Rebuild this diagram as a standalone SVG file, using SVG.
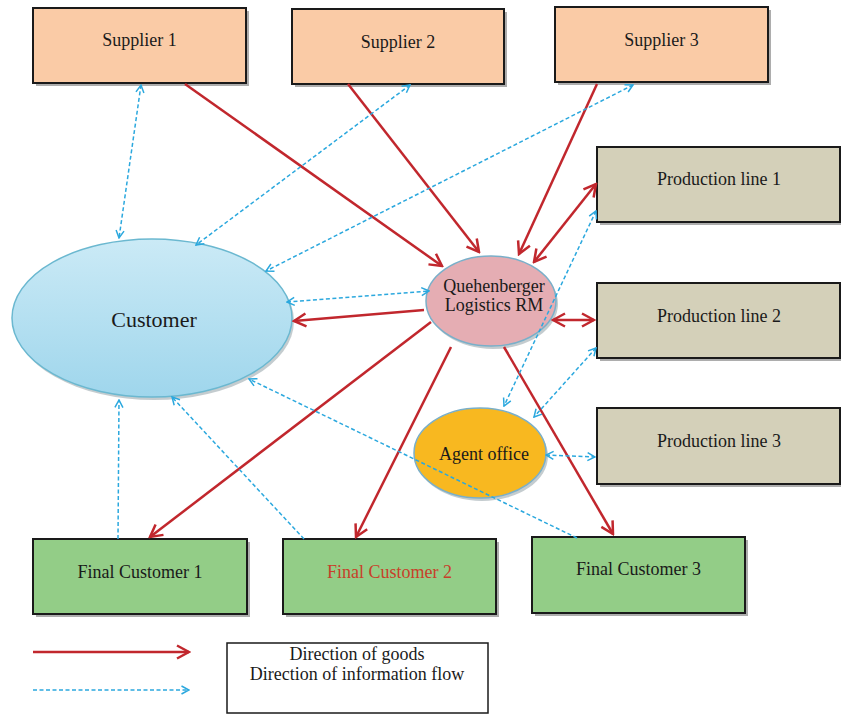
<svg xmlns="http://www.w3.org/2000/svg" width="841" height="714" viewBox="0 0 841 714">
<style>
.box{stroke:#1a1a1a;stroke-width:2}
.sh{fill:#6a6a6a;opacity:0.55}
.sup{fill:#FACBA6}
.pro{fill:#D4D0B9}
.fin{fill:#93CD87}
.t{font-family:"Liberation Serif","Times New Roman",serif;font-size:18px;fill:#1a1a1a;text-anchor:middle}
.g{fill:none;stroke:#C1272D;stroke-width:2.5}
.i{fill:none;stroke:#2BA8DE;stroke-width:1.5;stroke-dasharray:4 2.5}
</style>
<defs>
<linearGradient id="cg" x1="0" y1="0" x2="0" y2="1">
<stop offset="0" stop-color="#CBEAF6"/>
<stop offset="1" stop-color="#9FD6EC"/>
</linearGradient>
<marker id="rh" viewBox="0 0 16 16" refX="14" refY="8" markerWidth="16" markerHeight="16" markerUnits="userSpaceOnUse" orient="auto-start-reverse">
<path d="M2,1.5 L14,8 L2,14.5" fill="none" stroke="#C1272D" stroke-width="2.5"/>
</marker>
<marker id="bh" viewBox="0 0 10 10" refX="9" refY="5" markerWidth="10" markerHeight="10" markerUnits="userSpaceOnUse" orient="auto-start-reverse">
<path d="M1.5,1 L9,5 L1.5,9" fill="none" stroke="#2BA8DE" stroke-width="1.5"/>
</marker>
</defs>
<rect width="841" height="714" fill="#ffffff"/>

<g id="supplier1">
<rect class="sh" x="36" y="11" width="213" height="75"/>
<rect class="box sup" x="33" y="8" width="213" height="75"/>
<text class="t" x="139.5" y="46">Supplier 1</text>
</g>
<g id="supplier2">
<rect class="sh" x="295" y="12" width="212" height="75"/>
<rect class="box sup" x="292" y="9" width="212" height="75"/>
<text class="t" x="398" y="48">Supplier 2</text>
</g>
<g id="supplier3">
<rect class="sh" x="558" y="10" width="213" height="75"/>
<rect class="box sup" x="555" y="7" width="213" height="75"/>
<text class="t" x="661.5" y="46">Supplier 3</text>
</g>
<g id="production1">
<rect class="sh" x="600" y="150" width="244" height="75"/>
<rect class="box pro" x="597" y="147" width="243" height="75"/>
<text class="t" x="719" y="185">Production line 1</text>
</g>
<g id="production2">
<rect class="sh" x="600" y="286" width="244" height="75"/>
<rect class="box pro" x="597" y="283" width="243" height="75"/>
<text class="t" x="719" y="322">Production line 2</text>
</g>
<g id="production3">
<rect class="sh" x="600" y="411" width="244" height="76"/>
<rect class="box pro" x="597" y="408" width="243" height="76"/>
<text class="t" x="719" y="447">Production line 3</text>
</g>
<g id="customer">
<ellipse cx="154" cy="321" rx="140" ry="79" fill="#8a9aa0" opacity="0.5"/>
<ellipse cx="152" cy="318" rx="140" ry="79" fill="url(#cg)" stroke="#6BB8D0" stroke-width="1.5"/>
<text class="t" x="154" y="327" style="font-size:22px">Customer</text>
</g>
<g id="quehenberger">
<ellipse cx="493" cy="304" rx="65" ry="45" fill="#8a9aa0" opacity="0.5"/>
<ellipse cx="491" cy="301" rx="65" ry="45" fill="#E5ADB3" stroke="#7AAFC9" stroke-width="1.5"/>
<text class="t" x="494" y="292">Quehenberger</text>
<text class="t" x="494" y="311">Logistics RM</text>
</g>
<g id="agent">
<ellipse cx="482" cy="456" rx="66" ry="45" fill="#8a9aa0" opacity="0.5"/>
<ellipse cx="480" cy="453" rx="66" ry="45" fill="#F8B820" stroke="#7AAFC9" stroke-width="1.5"/>
<text class="t" x="484" y="460">Agent office</text>
</g>
<g id="final1">
<rect class="sh" x="36" y="542" width="214" height="75"/>
<rect class="box fin" x="33" y="539" width="214" height="75"/>
<text class="t" x="140" y="578">Final Customer 1</text>
</g>
<g id="final2">
<rect class="sh" x="286" y="542" width="213" height="75"/>
<rect class="box fin" x="283" y="539" width="213" height="75"/>
<text class="t" x="389.5" y="578" style="fill:#C8402A">Final Customer 2</text>
</g>
<g id="final3">
<rect class="sh" x="535" y="540" width="213" height="76"/>
<rect class="box fin" x="532" y="537" width="213" height="76"/>
<text class="t" x="638.5" y="575">Final Customer 3</text>
</g>

<g id="connectors">
<path class="g" d="M185,84 L442,266" marker-end="url(#rh)"/>
<path class="g" d="M348,84 L479,252" marker-end="url(#rh)"/>
<path class="g" d="M597,84 L519,254" marker-end="url(#rh)"/>
<path class="g" d="M534,262 L596,184" marker-start="url(#rh)" marker-end="url(#rh)"/>
<path class="g" d="M424,310 L294,321" marker-end="url(#rh)"/>
<path class="g" d="M553,320 L594,320" marker-start="url(#rh)" marker-end="url(#rh)"/>
<path class="g" d="M431,322 L150,537" marker-end="url(#rh)"/>
<path class="g" d="M451,347 L356,537" marker-end="url(#rh)"/>
<path class="g" d="M504,347 L613,534" marker-end="url(#rh)"/>

<path class="i" d="M141,85 L119,238" marker-start="url(#bh)" marker-end="url(#bh)"/>
<path class="i" d="M410,85 L196,245" marker-start="url(#bh)" marker-end="url(#bh)"/>
<path class="i" d="M633,85 L266,271" marker-start="url(#bh)" marker-end="url(#bh)"/>
<path class="i" d="M287,302 L429,291" marker-start="url(#bh)" marker-end="url(#bh)"/>
<path class="i" d="M596,211 L504,406" marker-start="url(#bh)" marker-end="url(#bh)"/>
<path class="i" d="M596,348 L534,417" marker-start="url(#bh)" marker-end="url(#bh)"/>
<path class="i" d="M546,455 L595,457" marker-start="url(#bh)" marker-end="url(#bh)"/>
<path class="i" d="M118,539 L119,400" marker-end="url(#bh)"/>
<path class="i" d="M304,539 L172,397" marker-end="url(#bh)"/>
<path class="i" d="M577,538 L249,379" marker-end="url(#bh)"/>
</g>

<g id="legend">
<path class="g" d="M33,652 L189,652" marker-end="url(#rh)"/>
<path class="i" d="M33,690 L189,690" marker-end="url(#bh)"/>
<rect x="227" y="643" width="261" height="70" fill="#ffffff" stroke="#1a1a1a" stroke-width="1.5"/>
<text class="t" x="357" y="660">Direction of goods</text>
<text class="t" x="357" y="680">Direction of information flow</text>
</g>
</svg>
